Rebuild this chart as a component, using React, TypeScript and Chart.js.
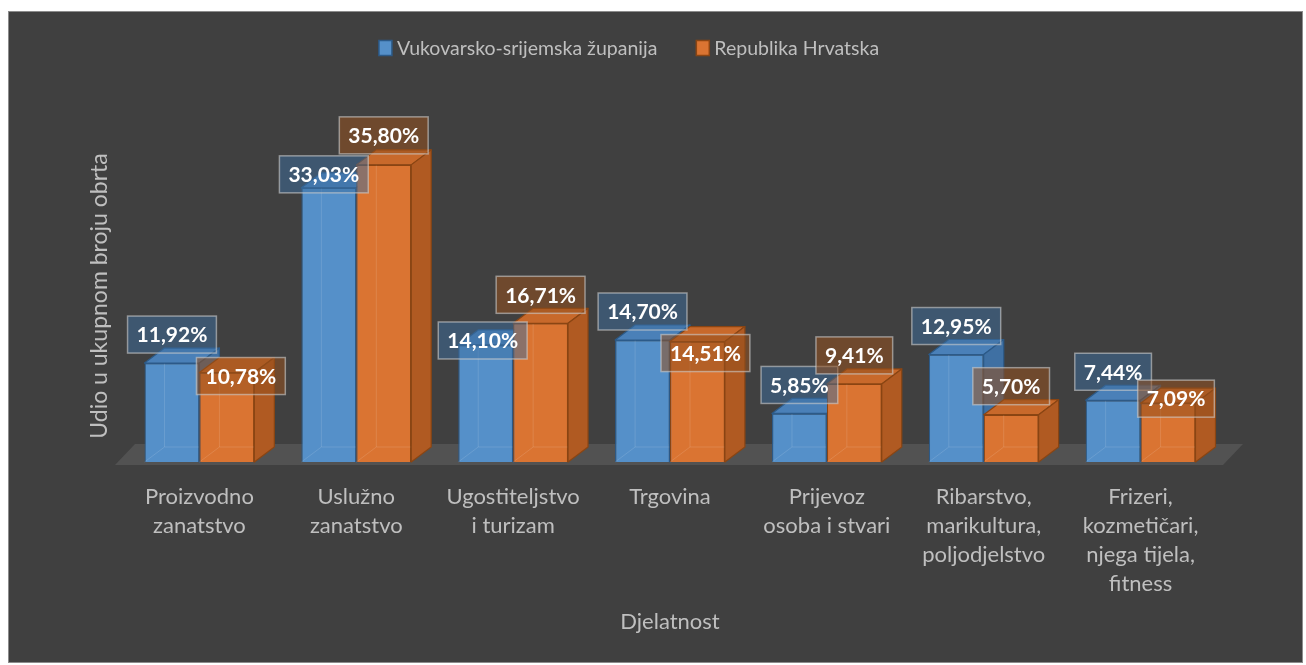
import React, { useEffect, useRef } from "react";
import { Chart, registerables } from "chart.js";

Chart.register(...registerables);

// ---------- data ----------
const CATEGORIES: string[][] = [
  ["Proizvodno", "zanatstvo"],
  ["Uslužno", "zanatstvo"],
  ["Ugostiteljstvo", "i turizam"],
  ["Trgovina"],
  ["Prijevoz", "osoba i stvari"],
  ["Ribarstvo,", "marikultura,", "poljodjelstvo"],
  ["Frizeri,", "kozmetičari,", "njega tijela,", "fitness"],
];
const SERIES_NAMES = ["Vukovarsko-srijemska županija", "Republika Hrvatska"];
const VUKOVARSKO = [11.92, 33.03, 14.1, 14.7, 5.85, 12.95, 7.44];
const HRVATSKA = [10.78, 35.8, 16.71, 14.51, 9.41, 5.7, 7.09];
const Y_TITLE = "Udio u ukupnom broju obrta";
const X_TITLE = "Djelatnost";
const Y_MIN = 0;
const Y_MAX = 40;

// ---------- styles ----------
const FONT = "Lato, 'Open Sans', sans-serif";
const TEXT_COLOR = "#bfbfbf";
const DX = 20;
const DY = -15;
const STYLES = [
  {
    front: "#5590c9",
    top: "#4a80b8",
    side: "#3f70a3",
    border: "#2c5a88",
    labelFill: "rgba(60,110,160,0.5)",
  },
  {
    front: "#da7432",
    top: "#c8692b",
    side: "#b05a22",
    border: "#8a4513",
    labelFill: "rgba(150,80,30,0.55)",
  },
];
// label nudges relative to the default "above the bar" spot (avoid overlaps like the original)
const LABEL_NUDGE: number[][][] = [
  [[0, 0], [-5, 15], [-3, 24], [0, 0], [0, 0], [0, 0], [0, 0]],
  [[14, 32], [0, -1], [0, 0], [8, 40], [0, 0], [0, 0], [8, 24]],
];

const fmt = (v: number) => v.toFixed(2).replace(".", ",") + "%";

const bar3d = {
  id: "bar3d",
  beforeDatasetsDraw(chart: any) {
    const { ctx, chartArea } = chart;
    const { left, right, bottom } = chartArea;
    ctx.save();
    ctx.fillStyle = "#525252";
    ctx.beginPath();
    ctx.moveTo(left - 6, bottom + 3);
    ctx.lineTo(left + 14, bottom - 18);
    ctx.lineTo(right + 24, bottom - 18);
    ctx.lineTo(right + 4, bottom + 3);
    ctx.closePath();
    ctx.fill();
    ctx.restore();
  },
  afterDatasetsDraw(chart: any) {
    const ctx: CanvasRenderingContext2D = chart.ctx;
    const n = chart.data.labels.length;
    for (let i = 0; i < n; i++) {
      chart.data.datasets.forEach((_ds: any, d: number) => {
        const el = chart.getDatasetMeta(d).data[i];
        if (!el) return;
        if (d > 0) el.draw(ctx);
        const { x, y, base, width } = el.getProps(["x", "y", "base", "width"], true);
        const x0 = x - width / 2;
        const x1 = x + width / 2;
        const st = STYLES[d];
        ctx.save();
        // faint hidden edges (translucent look)
        ctx.strokeStyle = "rgba(255,255,255,0.12)";
        ctx.lineWidth = 1;
        ctx.beginPath();
        ctx.moveTo(x0, base);
        ctx.lineTo(x0 + DX, base + DY);
        ctx.lineTo(x1 + DX, base + DY);
        ctx.moveTo(x0 + DX, base + DY);
        ctx.lineTo(x0 + DX, y + DY);
        ctx.stroke();
        ctx.strokeStyle = st.border;
        ctx.lineWidth = 1.2;
        ctx.lineJoin = "round";
        // top face
        ctx.fillStyle = st.top;
        ctx.beginPath();
        ctx.moveTo(x0, y);
        ctx.lineTo(x1, y);
        ctx.lineTo(x1 + DX, y + DY);
        ctx.lineTo(x0 + DX, y + DY);
        ctx.closePath();
        ctx.fill();
        ctx.stroke();
        // side face
        ctx.fillStyle = st.side;
        ctx.beginPath();
        ctx.moveTo(x1, y);
        ctx.lineTo(x1 + DX, y + DY);
        ctx.lineTo(x1 + DX, base + DY);
        ctx.lineTo(x1, base);
        ctx.closePath();
        ctx.fill();
        ctx.stroke();
        ctx.restore();
      });
    }
    // data labels
    ctx.save();
    ctx.font = `bold 21px ${FONT}`;
    ctx.textAlign = "center";
    ctx.textBaseline = "middle";
    chart.data.datasets.forEach((ds: any, d: number) => {
      const meta = chart.getDatasetMeta(d);
      ds.data.forEach((v: number, i: number) => {
        const el = meta.data[i];
        const { x, y } = el.getProps(["x", "y"], true);
        const txt = fmt(v);
        const tw = ctx.measureText(txt).width;
        const bw = tw + 18;
        const bh = 37;
        const nd = LABEL_NUDGE[d][i];
        const cx = x + nd[0];
        const cy = y - 28.5 + nd[1];
        ctx.fillStyle = STYLES[d].labelFill;
        ctx.fillRect(cx - bw / 2, cy - bh / 2, bw, bh);
        ctx.strokeStyle = "rgba(205,205,205,0.6)";
        ctx.lineWidth = 1.5;
        ctx.strokeRect(cx - bw / 2, cy - bh / 2, bw, bh);
        ctx.fillStyle = "#ffffff";
        ctx.fillText(txt, cx, cy + 1);
      });
    });
    ctx.restore();
  },
  afterDraw(chart: any) {
    // legend
    const ctx: CanvasRenderingContext2D = chart.ctx;
    ctx.save();
    ctx.font = `19.5px ${FONT}`;
    const bw = 13;
    const bh = 15;
    const gapText = 5;
    const gapItem = 39;
    const widths = SERIES_NAMES.map((s) => ctx.measureText(s).width);
    const total = widths.reduce((a, w) => a + bw + gapText + w, 0) + gapItem * (widths.length - 1);
    let xx = 620 - total / 2;
    const cy = 36;
    ctx.textBaseline = "middle";
    ctx.textAlign = "left";
    SERIES_NAMES.forEach((s, k) => {
      ctx.fillStyle = STYLES[k].front;
      ctx.fillRect(xx, cy - bh / 2, bw, bh);
      ctx.strokeStyle = STYLES[k].border;
      ctx.lineWidth = 1.5;
      ctx.strokeRect(xx, cy - bh / 2, bw, bh);
      ctx.fillStyle = TEXT_COLOR;
      ctx.fillText(s, xx + bw + gapText, cy + 1);
      xx += bw + gapText + widths[k] + gapItem;
    });
    ctx.restore();
  },
};

export default function App() {
  const ref = useRef<HTMLCanvasElement | null>(null);
  useEffect(() => {
    if (!ref.current) return;
    const chart = new Chart(ref.current, {
      type: "bar",
      data: {
        labels: CATEGORIES,
        datasets: [
          {
            label: SERIES_NAMES[0],
            data: VUKOVARSKO,
            backgroundColor: STYLES[0].front,
            borderColor: STYLES[0].border,
            borderWidth: 1.2,
          },
          {
            label: SERIES_NAMES[1],
            data: HRVATSKA,
            backgroundColor: STYLES[1].front,
            borderColor: STYLES[1].border,
            borderWidth: 1.2,
          },
        ],
      },
      options: {
        responsive: false,
        animation: false,
        layout: { padding: { top: 118, right: 83, left: 0, bottom: 0 } },
        datasets: { bar: { categoryPercentage: 0.7, barPercentage: 1.0 } },
        plugins: {
          legend: { display: false },
          tooltip: { enabled: false },
        },
        scales: {
          x: {
            grid: { display: false, drawTicks: false },
            border: { display: false },
            ticks: {
              color: TEXT_COLOR,
              font: { family: FONT, size: 22, lineHeight: "29px" },
              padding: 20,
              autoSkip: false,
              maxRotation: 0,
              minRotation: 0,
            },
            title: {
              display: true,
              text: X_TITLE,
              color: TEXT_COLOR,
              font: { family: FONT, size: 22, lineHeight: 1 },
              padding: { top: 0, bottom: 29 },
            },
            afterFit: (s: any) => {
              s.height = 200;
            },
          },
          y: {
            min: Y_MIN,
            max: Y_MAX,
            grid: { display: false },
            border: { display: false },
            ticks: { display: false },
            title: {
              display: true,
              text: Y_TITLE,
              color: TEXT_COLOR,
              font: { family: FONT, size: 23, lineHeight: 1 },
              padding: { top: 79, bottom: 0 },
            },
            afterFit: (s: any) => {
              s.width = 112;
            },
          },
        },
      },
      plugins: [bar3d],
    } as any);
    return () => chart.destroy();
  }, []);

  return (
    <div style={{ position: "absolute", left: 0, top: 0, width: 1306, height: 665, background: "#ffffff" }}>
      <div
        style={{
          position: "absolute",
          left: 8,
          top: 11,
          width: 1293,
          height: 650,
          background: "#404040",
          border: "1px solid #8c8c8c",
        }}
      >
        <canvas ref={ref} width={1293} height={650} style={{ display: "block" }} />
      </div>
    </div>
  );
}
